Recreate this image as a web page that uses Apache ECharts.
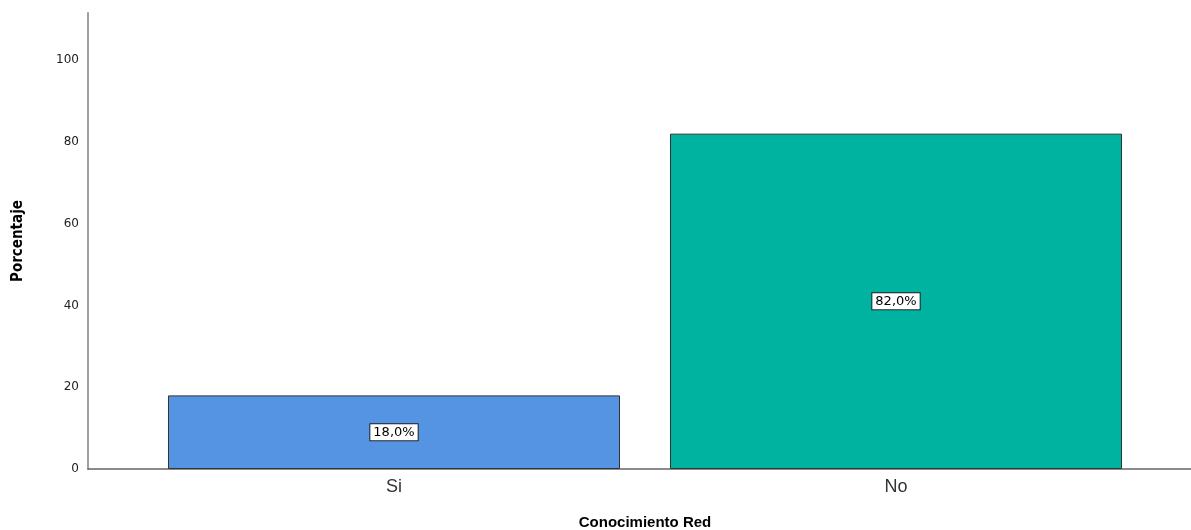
<!DOCTYPE html>
<html><head><meta charset="utf-8">
<script src="https://cdn.jsdelivr.net/npm/echarts@6/dist/echarts.min.js"></script>
<style>html,body{margin:0;padding:0;background:#fff}#c{width:1191px;height:530px}</style>
</head><body><div id="c"></div>
<script>
const categories = ["Si", "No"];
const percentages = [18.0, 82.0];
const barColors = ["#5594E2", "#00B3A0"];
const yTicks = [0, 20, 40, 60, 80, 100];

const chart = echarts.init(document.getElementById('c'), null, {renderer: 'canvas'});
chart.setOption({
  animation: false,
  backgroundColor: '#fff',
  grid: [
    {left: 143, right: 44, top: 13, bottom: 61, containLabel: false, outerBoundsMode: 'none'},
    {left: 88, right: 0, top: 13, bottom: 61, containLabel: false, outerBoundsMode: 'none'}
  ],
  xAxis: [
    {
      type: 'category', gridIndex: 0, data: categories,
      axisLine: {show: false}, axisTick: {show: false},
      axisLabel: {fontFamily: 'Liberation Sans', fontSize: 18, color: '#333', margin: 9},
      name: 'Conocimiento Red', nameLocation: 'middle', nameGap: 46,
      nameTextStyle: {fontFamily: 'Liberation Sans', fontWeight: 'bold', fontSize: 15, color: '#000'}
    },
    {
      type: 'value', gridIndex: 1, min: 0, max: 1,
      axisLine: {show: true, lineStyle: {color: '#666', width: 1.5}},
      axisTick: {show: false}, axisLabel: {show: false}, splitLine: {show: false}
    }
  ],
  yAxis: [
    {
      type: 'value', gridIndex: 0, min: 0, max: 111.5, interval: 20, offset: 55,
      axisLine: {show: true, lineStyle: {color: '#a0a0a0', width: 2}},
      axisTick: {show: false}, splitLine: {show: false},
      axisLabel: {fontFamily: 'DejaVu Sans', fontSize: 12, color: '#222', margin: 9,
        showMaxLabel: false,
        formatter: v => yTicks.includes(v) ? String(v) : ''},
      name: 'Porcentaje', nameLocation: 'middle', nameGap: 62, nameRotate: 90,
      nameTextStyle: {fontFamily: '"Liberation Sans Narrow", "DejaVu Sans Condensed", "Liberation Sans", sans-serif', fontWeight: 'bold', fontSize: 15, color: '#000'}
    },
    {type: 'value', gridIndex: 1, show: false, min: 0, max: 1}
  ],
  series: [{
    type: 'bar', xAxisIndex: 0, yAxisIndex: 0, barWidth: 452,
    data: percentages.map((v, i) => ({value: v, itemStyle: {color: barColors[i]}})),
    itemStyle: {borderColor: '#333', borderWidth: 1},
    label: {
      show: true, position: 'inside',
      formatter: p => p.value.toFixed(1).replace('.', ',') + '%',
      fontFamily: 'DejaVu Sans', fontSize: 13, color: '#000',
      backgroundColor: '#fff', borderColor: '#222', borderWidth: 1,
      padding: [2, 3, 1, 3]
    }
  }]
});
</script></body></html>
